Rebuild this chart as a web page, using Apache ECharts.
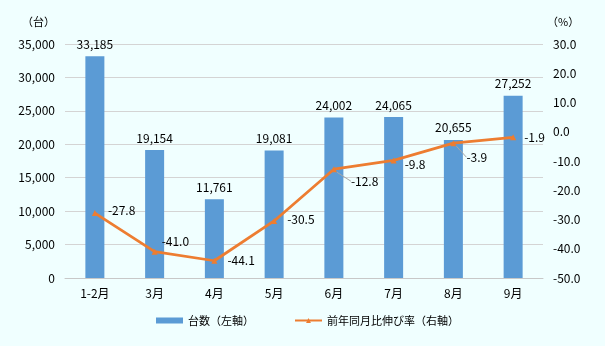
<!DOCTYPE html>
<html>
<head>
<meta charset="utf-8">
<script src="https://cdn.jsdelivr.net/npm/echarts@6/dist/echarts.min.js"></script>
<style>
html,body{margin:0;padding:0;background:#f0ffff;}
#main{width:605px;height:346px;}
</style>
</head>
<body>
<div id="main"></div>
<script>
// Monthly units and year-on-year growth rate
const categories = ['1-2月', '3月', '4月', '5月', '6月', '7月', '8月', '9月'];
const units = [33185, 19154, 11761, 19081, 24002, 24065, 20655, 27252];
const growth = [-27.8, -41.0, -44.1, -30.5, -12.8, -9.8, -3.9, -1.9];
const leftTicks = { min: 0, max: 35000, interval: 5000 };
const rightTicks = { min: -50, max: 30, interval: 10 };

// label offsets for the growth-rate labels [dx, dy], and whether a leader line is drawn
const growthLabelOffset = [[8, -3], [2, -10], [8, 0], [8, -2], [12, 12], [6, 4], [8, 14], [6, 0]];
const growthLeader = [false, false, false, false, true, false, true, false];

const FONT = '"Noto Sans CJK JP", "Noto Sans", sans-serif';
const chart = echarts.init(document.getElementById('main'));

chart.setOption({
  backgroundColor: '#f0ffff',
  textStyle: { fontFamily: FONT, color: '#000' },
  grid: { left: 65, right: 62, top: 44, bottom: 68 },
  legend: {
    bottom: 15,
    left: 151,
    itemGap: 40,
    itemWidth: 27,
    itemHeight: 6,
    textStyle: { fontFamily: FONT, fontSize: 11, color: '#000' },
    data: [
      { name: '台数（左軸）', icon: 'rect' },
      { name: '前年同月比伸び率（右軸）' }
    ]
  },
  xAxis: {
    type: 'category',
    data: categories,
    axisTick: { show: false },
    axisLine: { lineStyle: { color: '#c8c8c8' } },
    axisLabel: { color: '#000', fontSize: 12, fontFamily: FONT, margin: 9 }
  },
  yAxis: [
    {
      type: 'value',
      min: leftTicks.min, max: leftTicks.max, interval: leftTicks.interval,
      name: '（台）',
      nameLocation: 'end',
      nameGap: 17,
      nameTextStyle: { color: '#000', fontSize: 11, fontFamily: FONT, align: 'right', padding: [0, 10, 0, 0] },
      axisLine: { show: false },
      axisTick: { show: false },
      axisLabel: {
        color: '#000', fontSize: 12, fontFamily: FONT, margin: 10,
        formatter: v => v.toLocaleString('en-US')
      },
      splitLine: { lineStyle: { color: '#d4d4d4' } }
    },
    {
      type: 'value',
      min: rightTicks.min, max: rightTicks.max, interval: rightTicks.interval,
      name: '（%）',
      nameLocation: 'end',
      nameGap: 17,
      nameTextStyle: { color: '#000', fontSize: 11, fontFamily: FONT, align: 'left', padding: [0, 0, 0, 4] },
      axisLine: { show: false },
      axisTick: { show: false },
      axisLabel: {
        color: '#000', fontSize: 12, fontFamily: FONT, margin: 10,
        formatter: v => v.toFixed(1)
      },
      splitLine: { show: false }
    }
  ],
  series: [
    {
      name: '台数（左軸）',
      type: 'bar',
      yAxisIndex: 0,
      barWidth: 19,
      data: units,
      itemStyle: { color: '#5b9bd5' },
      label: {
        show: true,
        position: 'top',
        distance: 6,
        color: '#000',
        fontSize: 12,
        fontFamily: FONT,
        formatter: p => p.value.toLocaleString('en-US')
      }
    },
    {
      name: '前年同月比伸び率（右軸）',
      type: 'line',
      yAxisIndex: 1,
      data: growth.map((v, i) => ({
        value: v,
        labelLine: { show: growthLeader[i] }
      })),
      itemStyle: { color: '#ed7d31' },
      lineStyle: { color: '#ed7d31', width: 2.75 },
      symbol: 'triangle',
      symbolSize: 6,
      label: {
        show: true,
        position: 'right',
        distance: 2,
        color: '#000',
        fontSize: 12,
        fontFamily: FONT,
        formatter: p => p.value.toFixed(1)
      },
      labelLine: { show: false, lineStyle: { color: '#a6a6a6', width: 1 } },
      labelLayout: p => ({
        dx: growthLabelOffset[p.dataIndex][0],
        dy: growthLabelOffset[p.dataIndex][1]
      })
    }
  ]
});
</script>
</body>
</html>
